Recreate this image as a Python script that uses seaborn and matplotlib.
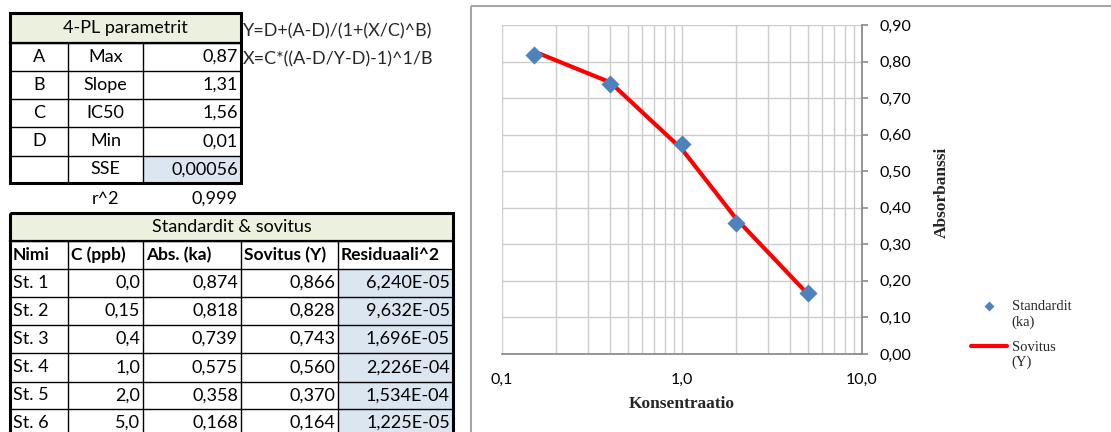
import matplotlib
matplotlib.use("Agg")
import matplotlib.pyplot as plt
import seaborn as sns
import pandas as pd
from matplotlib.patches import Rectangle
from matplotlib.collections import Collection
from matplotlib.transforms import ScaledTranslation
from matplotlib.ticker import FixedLocator, FixedFormatter, LogLocator, NullFormatter

# ---------------- data ----------------
param_title = "4-PL parametrit"
param_symbols = ["A", "B", "C", "D", ""]
param_names = ["Max", "Slope", "IC50", "Min", "SSE"]
param_values = ["0,87", "1,31", "1,56", "0,01", "0,00056"]
r2_label = "r^2"
r2_value = "0,999"
formula_lines = ["Y=D+(A-D)/(1+(X/C)^B)", "X=C*((A-D/Y-D)-1)^1/B"]

std_title = "Standardit & sovitus"
table_headers = ["Nimi", "C (ppb)", "Abs. (ka)", "Sovitus (Y)", "Residuaali^2"]
std_names = ["St. 1", "St. 2", "St. 3", "St. 4", "St. 5", "St. 6"]
conc = [0.0, 0.15, 0.4, 1.0, 2.0, 5.0]
conc_labels = ["0,0", "0,15", "0,4", "1,0", "2,0", "5,0"]
abs_ka = [0.874, 0.818, 0.739, 0.575, 0.358, 0.168]
sovitus = [0.866, 0.828, 0.743, 0.560, 0.370, 0.164]
resid_labels = ["6,240E-05", "9,632E-05", "1,696E-05", "2,226E-04", "1,534E-04", "1,225E-05"]

x_ticks = [0.1, 1.0, 10.0]
x_tick_labels = ["0,1", "1,0", "10,0"]
y_ticks = [0.0, 0.1, 0.2, 0.3, 0.4, 0.5, 0.6, 0.7, 0.8, 0.9]
x_title = "Konsentraatio"
y_title = "Absorbanssi"
legend_labels = ["Standardit\n(ka)", "Sovitus\n(Y)"]

# ---------------- style ----------------
sns.set_style("white")
plt.rcParams["font.family"] = ["Lato", "DejaVu Sans"]
SANS = ["Lato", "DejaVu Sans"]
SERIF = ["Liberation Serif", "DejaVu Serif"]

W, H = 1111, 432
fig = plt.figure(figsize=(W / 100, H / 100), dpi=100)
fig.patch.set_facecolor("white")

bg = fig.add_axes([0, 0, 1, 1])
bg.set_xlim(0, W)
bg.set_ylim(H, 0)
bg.axis("off")

FS = 13
FS_BOLD = 12.5
HEAD_FILL = "#ECF0DE"
BLUE_FILL = "#DCE6F1"

def hline(y, x0, x1, lw=1.0):
    bg.plot([x0, x1], [y, y], color="black", lw=lw, solid_capstyle="projecting")

def vline(x, y0, y1, lw=1.0):
    bg.plot([x, x], [y0, y1], color="black", lw=lw, solid_capstyle="projecting")

def cell_text(txt, x0, x1, y0, y1, align="center", bold=False):
    yc = (y0 + y1) / 2
    if align == "center":
        x, ha = (x0 + x1) / 2, "center"
    elif align == "right":
        x, ha = x1 - 3, "right"
    else:
        x, ha = x0 + 3, "left"
    bg.text(x, yc, txt, ha=ha, va="center", fontsize=FS_BOLD if bold else FS,
            family=SANS, fontweight="bold" if bold else "normal", color="black")

# ---- table 1 ----
t1x = [10, 68, 143, 241]
t1y = [13, 43, 71, 99, 127, 156, 183]
bg.add_patch(Rectangle((t1x[0], t1y[0]), t1x[-1] - t1x[0], t1y[1] - t1y[0],
                       facecolor=HEAD_FILL, edgecolor="none"))
bg.add_patch(Rectangle((t1x[2], t1y[5]), t1x[3] - t1x[2], t1y[6] - t1y[5],
                       facecolor=BLUE_FILL, edgecolor="none"))
cell_text(param_title, t1x[0], t1x[-1], t1y[0], t1y[1])
for i in range(len(param_names)):
    y0, y1 = t1y[i + 1], t1y[i + 2]
    cell_text(param_symbols[i], t1x[0], t1x[1], y0, y1, "center")
    cell_text(param_names[i], t1x[1], t1x[2], y0, y1, "center")
    cell_text(param_values[i], t1x[2], t1x[3], y0, y1, "right")
for y in t1y[1:-1]:
    hline(y, t1x[0], t1x[-1], 1.0)
for x in t1x[1:-1]:
    vline(x, t1y[1], t1y[-1], 1.0)
bg.add_patch(Rectangle((t1x[0], t1y[0]), t1x[-1] - t1x[0], t1y[-1] - t1y[0],
                       facecolor="none", edgecolor="black", lw=2.2))
hline(t1y[1], t1x[0], t1x[-1], 1.6)
cell_text(r2_label, t1x[1], t1x[2], 186, 212, "center")
cell_text(r2_value, t1x[2], t1x[3], 186, 212, "right")
bg.text(243, 31, formula_lines[0], ha="left", va="center", fontsize=FS, family=SANS)
bg.text(243, 59, formula_lines[1], ha="left", va="center", fontsize=FS, family=SANS)

# ---- table 2 ----
t2x = [10, 68, 143, 241, 338, 453]
t2y = [213, 241, 269, 297, 325, 353, 382, 409, 437]
bg.add_patch(Rectangle((t2x[0], t2y[0]), t2x[-1] - t2x[0], t2y[1] - t2y[0],
                       facecolor=HEAD_FILL, edgecolor="none"))
bg.add_patch(Rectangle((t2x[4], t2y[2]), t2x[5] - t2x[4], t2y[-1] - t2y[2],
                       facecolor=BLUE_FILL, edgecolor="none"))
cell_text(std_title, t2x[0], t2x[-1], t2y[0], t2y[1])
for j, h in enumerate(table_headers):
    cell_text(h, t2x[j], t2x[j + 1], t2y[1], t2y[2], "left", bold=True)
for i in range(len(std_names)):
    y0, y1 = t2y[i + 2], t2y[i + 3]
    cell_text(std_names[i], t2x[0], t2x[1], y0, y1, "left")
    cell_text(conc_labels[i], t2x[1], t2x[2], y0, y1, "right")
    cell_text(f"{abs_ka[i]:.3f}".replace(".", ","), t2x[2], t2x[3], y0, y1, "right")
    cell_text(f"{sovitus[i]:.3f}".replace(".", ","), t2x[3], t2x[4], y0, y1, "right")
    cell_text(resid_labels[i], t2x[4], t2x[5], y0, y1, "right")
for y in t2y[1:-1]:
    hline(y, t2x[0], t2x[-1], 1.0)
for x in t2x[1:-1]:
    vline(x, t2y[1], t2y[-1], 1.0)
bg.add_patch(Rectangle((t2x[0], t2y[0]), t2x[-1] - t2x[0], t2y[-1] - t2y[0],
                       facecolor="none", edgecolor="black", lw=2.2))
hline(t2y[1], t2x[0], t2x[-1], 1.6)

# ---- chart frame ----
bg.add_patch(Rectangle((471, 6), 645, 440, facecolor="none",
                       edgecolor="#A6A6A6", lw=1.5))

# ---------------- chart ----------------
L, R, T, B = 502, 862, 25, 354
ax = fig.add_axes([L / W, (H - B) / H, (R - L) / W, (B - T) / H])
ax.set_facecolor("none")

df_pts = pd.DataFrame({"conc": conc[1:], "abs": abs_ka[1:]})
df_fit = pd.DataFrame({"conc": conc[1:], "fit": sovitus[1:]})

sns.lineplot(data=df_fit, x="conc", y="fit", ax=ax, color="#FF0000", lw=3.0,
             label=legend_labels[1], zorder=3, sort=True)
sns.scatterplot(data=df_pts, x="conc", y="abs", ax=ax, marker="D", s=85,
                color="#4F81BD", edgecolor="#4F81BD", linewidth=0,
                label=legend_labels[0], zorder=4)

ax.set_xscale("log")
ax.set_xlim(0.1, 10)
ax.set_ylim(0, 0.9)

ax.xaxis.set_major_locator(FixedLocator(x_ticks))
ax.xaxis.set_major_formatter(FixedFormatter(x_tick_labels))
ax.xaxis.set_minor_locator(LogLocator(base=10, subs=range(2, 10)))
ax.xaxis.set_minor_formatter(NullFormatter())
ax.yaxis.set_major_locator(FixedLocator(y_ticks))
ax.yaxis.set_major_formatter(FixedFormatter([f"{v:.2f}".replace(".", ",") for v in y_ticks]))

ax.grid(which="both", axis="x", color="#CCCCCC", lw=1.0)
ax.grid(which="major", axis="y", color="#CCCCCC", lw=1.0)
ax.set_axisbelow(True)

for s in ["left", "top"]:
    ax.spines[s].set_visible(False)
for s in ["bottom", "right"]:
    ax.spines[s].set_color("#8C8C8C")
    ax.spines[s].set_linewidth(1.3)

ax.yaxis.tick_right()
ax.tick_params(axis="y", which="major", direction="out", length=4.5, width=1.2,
               color="#8C8C8C", pad=8, labelsize=11.5, labelcolor="black")
ax.tick_params(axis="x", which="major", direction="out", length=4.5, width=1.2,
               color="#8C8C8C", pad=9, labelsize=11.5, labelcolor="black")
ax.tick_params(axis="x", which="minor", length=0)
for lab in ax.get_xticklabels() + ax.get_yticklabels():
    lab.set_family(SANS)

ax.set_xlabel(x_title, fontsize=12.5, fontweight="bold", family=SERIF)
ax.xaxis.set_label_coords(0.5, -0.128)
ax.yaxis.set_label_position("right")
ax.set_ylabel(y_title, fontsize=12.5, fontweight="bold", family=SERIF,
              rotation=90, va="center", ha="center")
ax.yaxis.set_label_coords(1.222, 0.492)

handles, labels = ax.get_legend_handles_labels()
order = [labels.index(legend_labels[0]), labels.index(legend_labels[1])]
leg = ax.legend([handles[i] for i in order], [labels[i] for i in order],
                loc="upper left", bbox_to_anchor=(971 / W, (H - 300) / H),
                bbox_transform=fig.transFigure, frameon=False,
                prop={"family": SERIF, "size": 10.5}, handlelength=2.5,
                handletextpad=0.3, labelspacing=0.85, borderpad=0,
                borderaxespad=0, markerscale=0.55)

# align each legend key with the first line of its two-line label
shift = ScaledTranslation(0, 6.5 / 72, fig.dpi_scale_trans)
for hnd in leg.legend_handles:
    if isinstance(hnd, Collection):
        hnd.set_offset_transform(hnd.get_offset_transform() + shift)
    else:
        hnd.set_transform(hnd.get_transform() + shift)

fig.savefig("out.png", dpi=100, facecolor="white")
